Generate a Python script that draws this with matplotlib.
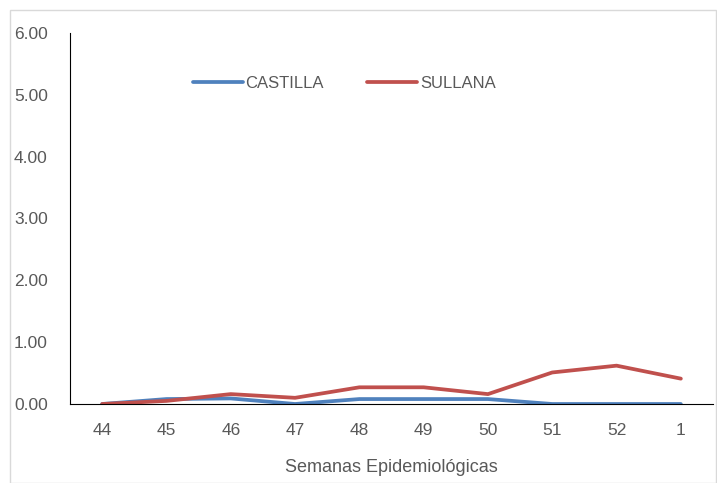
import numpy as np
import matplotlib.pyplot as plt
from matplotlib.patches import Rectangle

semanas = ["44", "45", "46", "47", "48", "49", "50", "51", "52", "1"]
castilla = [0.00, 0.08, 0.09, 0.00, 0.08, 0.08, 0.08, 0.00, 0.00, 0.00]
sullana = [0.00, 0.05, 0.16, 0.10, 0.27, 0.27, 0.16, 0.51, 0.62, 0.41]
yticks = [0, 1, 2, 3, 4, 5, 6]

plt.rcParams['font.family'] = ['Liberation Sans', 'DejaVu Sans']
gris = "#595959"

fig = plt.figure(figsize=(7.17, 4.83), dpi=100)
ax = fig.add_axes([70 / 717, 1 - 404 / 483, 643 / 717, 371 / 483])

x = np.arange(len(semanas))
ax.plot(x, castilla, color="#4F81BD", lw=2.7, solid_capstyle="round", label="CASTILLA")
ax.plot(x, sullana, color="#C0504D", lw=2.7, solid_capstyle="round", label="SULLANA")

ax.set_xlim(-0.5, len(semanas) - 0.5)
ax.set_ylim(0, 6)
ax.set_xticks(x)
ax.set_xticklabels(semanas)
ax.set_yticks(yticks)
ax.set_yticklabels([f"{v:.2f}" for v in yticks])
ax.tick_params(length=0, labelsize=12.5, colors=gris)
ax.tick_params(axis="x", pad=14)
ax.tick_params(axis="y", pad=16)

for s in ["top", "right"]:
    ax.spines[s].set_visible(False)
ax.spines["left"].set_color("black")
ax.spines["bottom"].set_color("black")

ax.set_xlabel("Semanas Epidemiológicas", fontsize=13, color=gris, labelpad=15)

leg = ax.legend(loc="upper left", bbox_to_anchor=(0.168, 0.925), ncol=2, frameon=False,
                fontsize=12, handlelength=3.0, handletextpad=0.15, columnspacing=2.6)
for t in leg.get_texts():
    t.set_color(gris)

fig.patches.append(Rectangle((10 / 717, 0), 706 / 717, 1 - 10 / 483, transform=fig.transFigure,
                             fill=False, edgecolor="#D9D9D9", lw=1))

fig.savefig("out.png", dpi=100)
